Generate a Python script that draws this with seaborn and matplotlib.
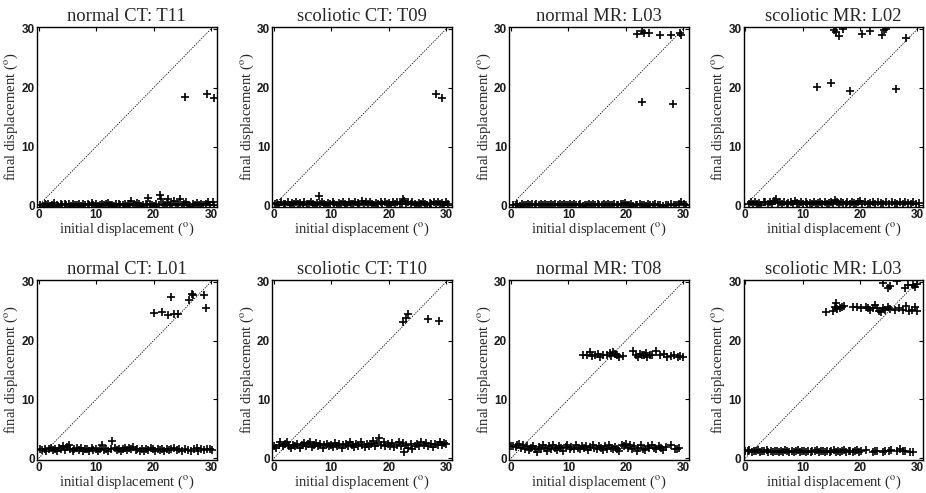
import matplotlib
matplotlib.use("Agg")
import matplotlib.pyplot as plt
import seaborn as sns
import pandas as pd

titles = ["normal CT: T11", "scoliotic CT: T09", "normal MR: L03", "scoliotic MR: L02",
          "normal CT: L01", "scoliotic CT: T10", "normal MR: T08", "scoliotic MR: L03"]

p1_points = [(0.3,0.0),(0.7,-0.1),(1.0,0.2),(1.2,0.0),(1.6,0.3),(2.0,-0.1),(2.3,0.1),(2.7,0.4),(3.1,0.0),(3.4,-0.2),
             (3.8,0.2),(4.1,0.1),(4.5,0.3),(4.8,0.0),(5.2,0.2),(5.6,-0.1),(5.9,0.3),(6.3,0.1),(6.6,0.0),(7.0,0.2),
             (7.4,-0.1),(7.7,0.3),(8.1,0.0),(8.5,0.2),(8.8,0.1),(9.2,0.4),(9.5,0.0),(9.9,0.2),(10.3,-0.1),(10.6,0.1),
             (11.0,0.3),(11.3,0.0),(11.7,0.2),(12.1,0.4),(12.4,0.0),(12.8,0.1),(13.1,-0.1),(13.5,0.3),(13.9,0.2),(14.2,0.0),
             (14.6,0.1),(15.0,0.3),(15.3,-0.1),(15.7,0.2),(16.0,0.7),(16.4,0.1),(16.8,0.0),(17.1,0.4),(17.5,0.2),(17.8,-0.1),
             (18.2,0.1),(18.6,0.3),(18.9,0.0),(19.1,1.2),(19.4,0.2),(19.8,0.1),(20.1,-0.1),(20.5,0.3),(20.9,0.0),(21.2,1.8),
             (21.3,1.0),(21.6,0.2),(22.0,0.1),(22.4,0.4),(22.6,1.0),(22.9,0.0),(23.3,0.2),(23.6,0.8),(23.9,0.1),(24.3,0.3),
             (24.6,1.0),(24.9,0.0),(25.3,0.2),(25.6,0.5),(26.0,0.1),(26.4,-0.1),(26.8,0.2),(27.2,0.0),(27.6,0.4),(28.0,0.1),
             (28.3,0.3),(28.7,0.0),(29.1,0.2),(29.5,0.5),(29.9,0.1),(30.3,0.5),(30.6,0.0),
             (25.5,18.5),(29.3,19.0),(30.5,18.3)]

p2_points = [(0.2,0.2),(0.6,0.4),(0.9,0.1),(1.3,0.5),(1.7,0.3),(2.0,0.2),(2.4,0.5),(2.8,0.1),(3.1,0.4),(3.5,0.3),
             (3.9,0.6),(4.2,0.2),(4.6,0.4),(5.0,0.1),(5.3,0.5),(5.7,0.3),(6.1,0.2),(6.4,0.6),(6.8,0.3),(7.2,0.1),
             (7.5,0.4),(7.8,1.6),(8.0,0.2),(8.3,0.5),(8.7,0.3),(9.1,0.1),(9.4,0.4),(9.8,0.2),(10.2,0.5),(10.5,0.3),
             (10.9,0.1),(11.3,0.4),(11.6,0.2),(12.0,0.6),(12.4,0.3),(12.7,0.1),(13.1,0.5),(13.5,0.3),(13.8,0.2),(14.2,0.5),
             (14.6,0.4),(14.9,0.1),(15.3,0.7),(15.6,0.3),(16.0,0.5),(16.4,0.2),(16.7,0.6),(17.1,0.3),(17.5,0.1),(17.8,0.4),
             (18.2,0.2),(18.6,0.5),(18.9,0.3),(19.3,0.6),(19.7,0.2),(20.0,0.4),(20.4,0.1),(20.8,0.5),(21.1,0.3),(21.5,0.6),
             (21.9,0.2),(22.3,0.4),(22.4,1.0),(22.7,0.7),(23.0,0.3),(23.4,0.5),(23.8,0.2),(24.1,0.6),(24.5,0.3),(24.9,0.1),
             (25.2,0.4),(25.6,0.2),(26.0,0.5),(26.3,0.3),(26.7,0.1),(27.1,0.4),(27.4,0.2),(27.8,0.5),(28.2,0.3),(28.5,0.6),
             (28.9,0.2),(29.3,0.4),(29.6,0.1),(30.0,0.5),(30.4,0.3),
             (28.2,18.9),(29.2,18.2)]

p3_points = [(0.3,0.1),(0.8,0.0),(1.1,0.2),(1.5,-0.1),(1.9,0.3),(2.2,0.1),(2.6,0.0),(3.0,0.2),(3.3,0.1),(3.7,0.3),
             (4.1,0.0),(4.4,0.2),(4.8,0.1),(5.2,0.3),(5.5,0.0),(5.9,0.2),(6.3,0.1),(6.6,0.0),(7.0,0.3),(7.4,0.1),
             (7.7,0.2),(8.1,0.0),(8.5,0.3),(8.8,0.1),(9.2,0.2),(9.6,0.0),(9.9,0.1),(10.3,0.3),(10.7,0.0),(11.0,0.2),
             (11.4,0.1),(11.8,0.0),(12.1,0.2),(12.5,-0.1),(12.9,0.1),(13.2,0.0),(13.6,0.2),(14.0,0.1),(14.3,0.3),(14.7,0.0),
             (15.1,0.2),(15.4,0.1),(15.8,0.0),(16.2,0.3),(16.5,0.1),(16.9,0.2),(17.3,0.0),(17.6,0.1),(18.0,0.2),(18.4,0.0),
             (18.7,0.1),(19.1,0.3),(19.5,0.2),(19.8,0.4),(20.2,0.1),(20.6,0.0),(20.9,0.2),(21.3,-0.1),(21.7,0.1),(22.0,0.0),
             (22.4,0.2),(22.8,0.0),(23.2,0.1),(23.5,-0.1),(23.9,0.3),(24.3,0.1),(24.7,0.0),(25.1,0.2),(25.6,0.0),(26.0,0.1),
             (26.5,-0.1),(27.0,0.1),(27.4,0.0),(27.9,0.2),(28.4,0.0),(28.8,0.1),(29.3,0.3),(29.7,0.5),(30.1,0.2),(30.5,0.0),
             (22.0,29.2),(22.8,29.6),(23.2,29.3),(24.0,29.3),(26.0,28.9),(27.8,29.0),(29.4,29.3),(29.7,29.0),
             (22.8,17.5),(28.3,17.2)]

p4_points = [(0.6,0.3),(1.0,0.5),(1.3,0.2),(1.7,0.6),(2.1,0.3),(2.4,0.4),(2.8,0.1),(3.2,0.5),(3.5,0.6),(3.9,0.3),
             (4.3,0.5),(4.6,0.2),(5.0,0.7),(5.3,1.0),(5.7,0.4),(6.1,0.6),(6.4,0.3),(6.8,0.5),(7.2,0.2),(7.5,0.4),
             (7.9,0.6),(8.3,0.3),(8.6,0.8),(9.0,0.4),(9.4,0.2),(9.7,0.5),(10.1,0.3),(10.5,0.6),(10.8,0.2),(11.2,0.4),
             (11.6,0.3),(11.9,0.5),(12.3,0.2),(12.7,0.4),(13.1,0.6),(13.4,0.3),(13.8,0.5),(14.2,0.2),(14.5,0.4),(14.9,0.6),
             (15.3,0.3),(15.6,0.9),(16.0,0.5),(16.4,0.3),(16.7,0.6),(17.1,0.4),(17.5,0.2),(17.8,0.5),(18.2,0.3),(18.6,0.6),
             (18.9,0.4),(19.3,0.2),(19.7,0.5),(20.0,0.7),(20.4,0.3),(20.8,0.5),(21.3,0.2),(21.7,0.4),(22.2,0.6),(22.6,0.3),
             (23.1,0.5),(23.6,0.4),(24.0,0.2),(24.5,0.5),(25.0,0.3),(25.5,0.6),(26.0,0.4),(26.4,0.2),(26.9,0.5),(27.4,0.3),
             (27.9,0.6),(28.3,0.4),(28.8,0.3),(29.3,0.5),(29.8,0.2),(30.2,0.4),
             (15.5,29.8),(15.8,29.5),(16.3,28.8),(17.0,30.0),(20.3,29.2),(21.8,29.7),(23.8,29.0),(24.2,29.8),(24.5,30.0),(28.0,28.5),
             (12.5,20.2),(15.0,20.8),(18.3,19.5),(26.2,19.8)]

p5_points = [(0.2,1.5),(0.6,1.4),(1.0,1.6),(1.3,1.3),(1.7,1.5),(2.1,1.7),(2.5,1.4),(2.8,1.6),(3.2,1.3),(3.6,1.8),
             (3.9,1.5),(4.3,2.0),(4.6,1.4),(5.0,1.9),(5.2,2.2),(5.5,1.6),(5.9,1.2),(6.2,1.5),(6.6,1.7),(7.0,1.4),
             (7.3,1.8),(7.7,1.3),(8.1,1.6),(8.4,1.5),(8.8,1.2),(9.2,1.7),(9.5,1.4),(9.9,1.6),(10.3,1.3),(10.6,1.5),
             (11.0,2.2),(11.4,1.4),(11.7,1.6),(12.1,1.3),(12.5,1.5),(12.8,2.9),(13.2,1.7),(13.6,1.4),(13.9,1.6),(14.3,1.3),
             (14.7,1.5),(15.0,1.7),(15.4,1.4),(15.8,1.8),(16.1,1.5),(16.5,1.9),(16.9,1.4),(17.2,1.6),(17.6,1.3),(18.0,1.5),
             (18.3,1.2),(18.7,1.6),(19.1,1.4),(19.5,1.7),(19.9,1.5),(20.3,1.3),(20.7,1.6),(21.1,1.4),(21.5,1.5),(21.9,1.3),
             (22.3,1.6),(22.7,1.4),(23.1,1.5),(23.6,1.7),(24.0,1.4),(24.5,1.5),(25.0,1.3),(25.5,1.6),(26.0,1.4),(26.5,1.2),
             (27.0,1.5),(27.5,1.8),(27.8,1.3),(28.3,1.5),(28.8,1.4),(29.3,1.6),(29.8,1.5),(30.2,1.4),
             (20.0,24.7),(21.5,24.9),(22.6,24.4),(23.0,27.4),(23.6,24.5),(24.2,24.5),(26.2,27.0),(26.7,28.0),(26.9,27.7),
             (28.8,27.7),(29.2,25.5)]

p6_points = [(0.0,2.0),(0.4,1.8),(0.8,2.2),(1.1,2.7),(1.5,2.0),(1.9,2.4),(2.3,2.8),(2.6,2.1),(3.0,1.7),(3.4,2.3),
             (3.7,2.0),(4.1,2.5),(4.5,1.8),(4.8,2.2),(5.2,2.6),(5.6,2.0),(5.9,2.4),(6.3,2.8),(6.6,1.9),(7.0,2.3),
             (7.4,2.6),(7.7,2.0),(8.1,2.4),(8.5,1.8),(8.8,2.2),(9.2,2.5),(9.6,2.0),(9.9,2.3),(10.3,1.9),(10.7,2.6),
             (11.0,2.1),(11.4,2.4),(11.8,1.8),(12.1,2.2),(12.5,2.5),(12.9,2.0),(13.2,2.7),(13.6,2.3),(14.0,1.9),(14.3,2.4),
             (14.7,2.1),(15.1,2.8),(15.4,2.2),(15.8,1.9),(16.2,2.5),(16.5,2.0),(16.9,2.4),(17.3,2.9),(17.6,2.1),(18.0,2.6),
             (18.3,3.4),(18.7,2.2),(19.1,2.7),(19.4,2.0),(19.8,2.4),(20.2,2.1),(20.6,2.6),(21.0,1.9),(21.4,2.3),(21.8,2.7),
             (22.2,2.0),(22.5,2.6),(22.7,1.0),(23.0,2.2),(23.4,1.8),(23.8,2.4),(24.1,1.6),(24.5,2.1),(24.9,2.5),(25.3,2.0),
             (25.7,2.8),(26.1,2.3),(26.5,2.6),(26.9,2.1),(27.3,2.5),(27.7,1.9),(28.1,2.4),(28.5,2.2),(28.9,2.8),(29.3,2.3),
             (29.7,2.6),(30.0,2.4),
             (22.5,23.1),(23.0,23.8),(23.3,24.6),(26.8,23.6),(28.8,23.3)]

p7_points = [(0.0,2.0),(0.4,2.1),(0.8,1.9),(1.1,2.3),(1.4,2.5),(1.7,1.8),(2.0,2.2),(2.4,1.5),(2.7,2.0),(3.1,1.4),
             (3.4,1.8),(3.8,2.1),(4.1,1.6),(4.5,1.1),(4.8,1.9),(5.2,1.5),(5.5,2.2),(5.9,1.7),(6.2,1.3),(6.6,2.0),
             (7.0,1.6),(7.3,2.3),(7.7,1.8),(8.0,1.4),(8.4,2.1),(8.7,1.7),(9.1,1.3),(9.5,1.9),(9.8,2.2),(10.2,1.5),
             (10.5,1.9),(10.9,1.6),(11.3,2.2),(11.6,1.8),(12.0,1.5),(12.3,2.1),(12.7,1.7),(13.1,2.0),(13.4,1.4),(13.8,1.9),
             (14.2,2.2),(14.5,1.7),(14.9,1.5),(15.3,2.1),(15.6,1.8),(16.0,1.4),(16.3,2.0),(16.7,1.6),(17.1,2.2),(17.4,1.8),
             (17.8,1.5),(18.2,1.9),(18.5,1.6),(18.9,1.3),(19.3,2.3),(19.6,2.0),(20.0,2.5),(20.4,1.8),(20.7,2.2),(21.1,1.5),
             (21.5,2.0),(21.9,1.2),(22.2,1.8),(22.6,2.2),(23.0,1.6),(23.4,1.4),(23.8,2.0),(24.1,1.7),(24.5,2.3),(24.9,1.8),
             (25.3,1.5),(25.7,2.1),(26.1,1.7),(26.5,1.4),(27.0,1.9),(27.8,2.3),(28.6,1.5),(29.0,1.6),(29.3,1.8),
             (12.5,17.5),(13.2,17.6),(13.7,18.0),(14.1,17.4),(14.6,17.5),(15.2,17.8),(15.5,17.3),(16.0,17.5),(16.8,17.5),
             (17.3,17.9),(17.5,17.4),(17.8,18.0),(18.2,17.7),(18.5,17.6),(18.9,17.3),(19.5,17.4),(21.3,18.2),(21.8,17.6),
             (22.1,17.2),(22.4,17.8),(22.8,17.5),(23.2,17.6),(23.5,17.9),(23.7,17.2),(24.2,17.5),(24.6,17.5),(25.3,18.3),
             (25.9,17.6),(26.6,17.7),(27.1,17.2),(27.8,17.4),(28.4,17.6),(29.1,17.3),(29.5,17.4),(30.0,17.3)]

p8_points = [(0.0,1.3),(0.4,1.2),(0.7,1.4),(1.1,1.1),(1.5,1.3),(1.8,1.2),(2.2,1.4),(2.6,1.0),(2.9,1.3),(3.3,1.2),
             (3.7,1.4),(4.0,1.0),(4.4,1.2),(4.8,1.1),(5.1,1.3),(5.5,1.2),(5.9,1.0),(6.2,1.3),(6.6,1.1),(7.0,1.4),
             (7.3,1.2),(7.7,1.0),(8.1,1.3),(8.4,1.1),(8.8,1.2),(9.2,1.4),(9.5,1.0),(9.9,1.2),(10.3,1.3),(10.6,1.1),
             (11.0,1.2),(11.4,1.0),(11.7,1.3),(12.1,1.2),(12.5,1.4),(12.8,1.1),(13.2,1.3),(13.6,1.2),(13.9,1.0),(14.3,1.3),
             (14.7,1.1),(15.0,1.2),(15.4,1.4),(15.8,1.0),(16.1,1.3),(16.5,1.1),(16.9,1.2),(17.2,1.4),(17.6,1.1),(18.0,1.3),
             (18.3,1.2),(18.7,1.0),(19.1,1.3),(19.4,1.4),(19.8,1.1),(20.2,1.2),(21.0,1.4),(22.2,1.1),(22.6,1.3),(23.0,1.2),
             (24.0,1.1),(24.4,1.3),(25.0,1.2),(25.4,1.4),(26.4,1.2),(26.9,1.5),(27.4,1.2),(27.9,1.3),(28.7,1.1),(29.2,1.0),
             (14.0,24.9),(15.3,25.0),(15.6,25.8),(15.8,26.4),(16.0,25.4),(16.5,25.6),(16.8,25.7),(17.2,25.9),(18.8,25.8),
             (19.5,25.7),(20.2,25.6),(21.0,25.8),(21.4,25.5),(21.8,25.3),(22.2,25.6),(22.6,26.0),(23.0,25.5),(23.3,25.1),
             (23.7,24.9),(24.0,25.6),(24.4,25.3),(24.8,25.8),(25.2,25.4),(26.0,25.2),(26.8,25.6),(27.5,25.3),(28.0,25.9),
             (28.5,25.1),(29.0,25.3),(29.6,25.8),(30.0,25.0),
             (24.0,29.8),(24.8,29.0),(25.2,29.3),(26.5,30.2),(27.8,28.9),(28.3,29.4),(29.2,29.5),(29.6,29.2),(29.9,29.6)]

all_points = [p1_points, p2_points, p3_points, p4_points, p5_points, p6_points, p7_points, p8_points]
ticks = [0, 10, 20, 30]

rows = []
for t, pts in zip(titles, all_points):
    for x, y in pts:
        rows.append({"panel": t, "initial": x, "final": y})
df = pd.DataFrame(rows)

sns.set_theme(style="white")
plt.rcParams["mathtext.fontset"] = "stix"
serif = ["Liberation Serif", "DejaVu Serif"]
sans = ["Liberation Sans Narrow", "Liberation Sans", "DejaVu Sans"]

fig = plt.figure(figsize=(9.26, 4.93), dpi=100)
lefts = [0.040, 0.294, 0.550, 0.803]
bottoms = [0.580, 0.067]
w, h = 0.194, 0.366

for i, t in enumerate(titles):
    r, c = divmod(i, 4)
    ax = fig.add_axes([lefts[c], bottoms[r], w, h])
    sub = df[df.panel == t]
    ax.plot([0, 31.5], [0, 31.5], color="black", lw=0.6, ls=(0, (1.5, 1.5)), zorder=1)
    sns.scatterplot(data=sub, x="initial", y="final", ax=ax, marker="+", color="black",
                    s=28, linewidth=1.2, legend=False, zorder=2)
    ax.set_xlim(-0.3, 31)
    ax.set_ylim(-0.3, 30.4)
    ax.set_xticks(ticks)
    ax.set_yticks(ticks)
    ax.tick_params(direction="in", top=True, right=True, length=3, width=0.8, pad=1.5,
                   labelsize=8.5, colors="black")
    for lab in ax.get_xticklabels() + ax.get_yticklabels():
        lab.set_family(sans)
        lab.set_fontweight("bold")
        lab.set_color("#1a1a1a")
    for sp in ax.spines.values():
        sp.set_color("black")
        sp.set_linewidth(1.0)
    ax.set_title(t, family=serif, fontsize=13.3, pad=4)
    ax.set_xlabel(r"initial displacement ($^{\mathrm{o}}$)", family=serif, fontsize=10.5, labelpad=0)
    ax.set_ylabel(r"final displacement ($^{\mathrm{o}}$)", family=serif, fontsize=10.5, labelpad=1)

fig.savefig("out.png", dpi=100)
